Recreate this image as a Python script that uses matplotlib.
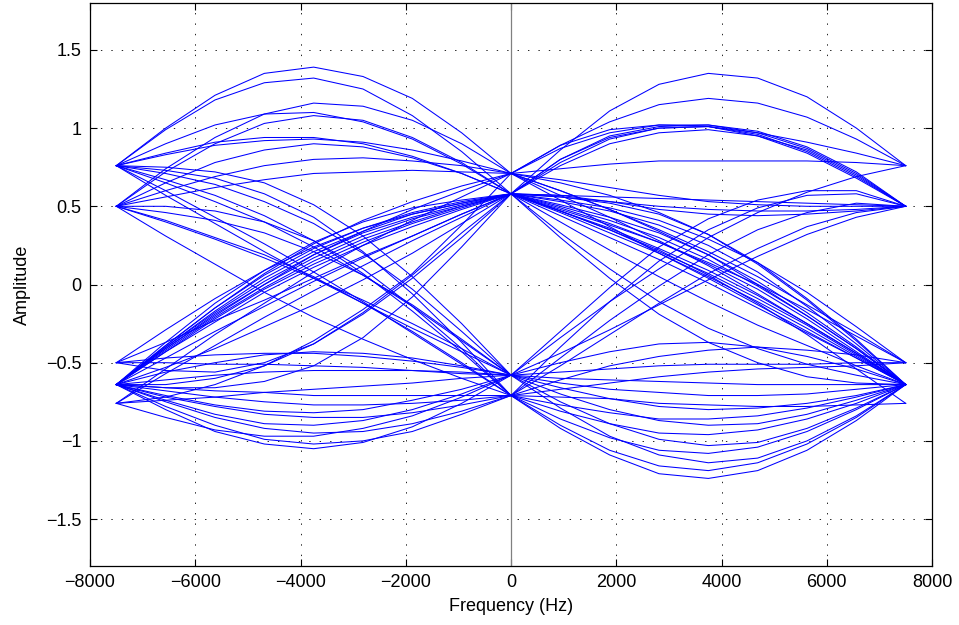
import matplotlib
matplotlib.use("Agg")
import matplotlib.pyplot as plt

plt.rcParams['font.family'] = ['Liberation Sans', 'DejaVu Sans']
plt.rcParams['lines.scale_dashes'] = False

# sample frequencies of each half-trace (Hz)
left_freq = [-7500, -6562.5, -5625, -4687.5, -3750, -2812.5, -1875, -937.5, 0]
right_freq = [0, 937.5, 1875, 2812.5, 3750, 4687.5, 5625, 6562.5, 7500]

# ---------------- left half ----------------
left_upper_arcs = [
    [0.76, 1.00, 1.21, 1.35, 1.39, 1.33, 1.19, 0.97, 0.71],
    [0.76, 0.99, 1.18, 1.29, 1.32, 1.25, 1.08, 0.85, 0.58],
    [0.50, 0.74, 0.94, 1.09, 1.16, 1.14, 1.05, 0.90, 0.71],
    [0.76, 0.90, 1.02, 1.09, 1.10, 1.04, 0.93, 0.77, 0.58],
    [0.50, 0.72, 0.90, 1.03, 1.08, 1.05, 0.94, 0.78, 0.58],
    [0.76, 0.84, 0.91, 0.94, 0.94, 0.90, 0.82, 0.71, 0.58],
    [0.76, 0.83, 0.89, 0.92, 0.93, 0.91, 0.86, 0.79, 0.71],
    [0.50, 0.65, 0.78, 0.86, 0.90, 0.88, 0.81, 0.71, 0.58],
    [0.50, 0.60, 0.69, 0.76, 0.80, 0.81, 0.79, 0.76, 0.71],
    [0.50, 0.56, 0.62, 0.67, 0.71, 0.72, 0.73, 0.72, 0.71],
]
left_descending = [
    [0.76, 0.71, 0.64, 0.53, 0.39, 0.20, -0.03, -0.30, -0.58],
    [0.76, 0.67, 0.57, 0.44, 0.28, 0.07, -0.17, -0.43, -0.71],
    [0.76, 0.65, 0.53, 0.40, 0.24, 0.06, -0.14, -0.36, -0.58],
    [0.76, 0.60, 0.43, 0.26, 0.08, -0.11, -0.31, -0.51, -0.71],
    [0.50, 0.46, 0.41, 0.33, 0.21, 0.06, -0.13, -0.35, -0.58],
    [0.50, 0.50, 0.47, 0.40, 0.28, 0.10, -0.14, -0.41, -0.71],
    [0.50, 0.40, 0.29, 0.17, 0.04, -0.10, -0.25, -0.41, -0.58],
    [0.50, 0.31, 0.13, -0.05, -0.21, -0.35, -0.48, -0.60, -0.71],
    [0.76, 0.57, 0.39, 0.21, 0.04, -0.12, -0.28, -0.43, -0.58],
    [0.76, 0.75, 0.72, 0.65, 0.51, 0.31, 0.05, -0.25, -0.58],
    [0.50, 0.41, 0.30, 0.19, 0.05, -0.12, -0.30, -0.50, -0.71],
    [0.76, 0.73, 0.68, 0.58, 0.43, 0.21, -0.06, -0.37, -0.71],
]
left_ascending = [
    [-0.64, -0.37, -0.12, 0.09, 0.27, 0.40, 0.49, 0.54, 0.58],
    [-0.64, -0.40, -0.18, 0.02, 0.19, 0.33, 0.43, 0.51, 0.58],
    [-0.64, -0.42, -0.21, -0.02, 0.15, 0.29, 0.40, 0.50, 0.58],
    [-0.64, -0.41, -0.20, 0.00, 0.19, 0.34, 0.48, 0.60, 0.71],
    [-0.64, -0.43, -0.24, -0.05, 0.11, 0.25, 0.37, 0.48, 0.58],
    [-0.64, -0.41, -0.19, 0.00, 0.17, 0.31, 0.42, 0.50, 0.58],
    [-0.64, -0.39, -0.15, 0.06, 0.23, 0.36, 0.46, 0.53, 0.58],
    [-0.50, -0.29, -0.09, 0.09, 0.24, 0.36, 0.45, 0.52, 0.58],
    [-0.76, -0.54, -0.32, -0.12, 0.08, 0.25, 0.41, 0.56, 0.71],
    [-0.64, -0.47, -0.30, -0.14, 0.02, 0.17, 0.31, 0.45, 0.58],
    [-0.64, -0.39, -0.15, 0.07, 0.26, 0.41, 0.53, 0.63, 0.71],
    [-0.64, -0.53, -0.41, -0.27, -0.13, 0.03, 0.20, 0.39, 0.58],
    [-0.50, -0.37, -0.23, -0.10, 0.04, 0.18, 0.31, 0.45, 0.58],
    [-0.64, -0.43, -0.22, -0.03, 0.13, 0.27, 0.39, 0.49, 0.58],
    [-0.76, -0.57, -0.39, -0.21, -0.04, 0.12, 0.28, 0.43, 0.58],
    [-0.64, -0.40, -0.17, 0.04, 0.21, 0.34, 0.45, 0.52, 0.58],
    [-0.64, -0.66, -0.66, -0.62, -0.52, -0.34, -0.08, 0.24, 0.58],
    [-0.64, -0.64, -0.60, -0.52, -0.38, -0.18, 0.06, 0.33, 0.58],
    [-0.76, -0.72, -0.64, -0.52, -0.36, -0.16, 0.07, 0.38, 0.71],
    [-0.50, -0.55, -0.56, -0.50, -0.38, -0.19, 0.04, 0.30, 0.58],
]
left_lower_arcs = [
    [-0.64, -0.56, -0.50, -0.45, -0.43, -0.44, -0.47, -0.52, -0.58],
    [-0.50, -0.47, -0.45, -0.44, -0.44, -0.46, -0.49, -0.53, -0.58],
    [-0.50, -0.50, -0.51, -0.51, -0.52, -0.53, -0.55, -0.56, -0.58],
    [-0.64, -0.61, -0.58, -0.56, -0.55, -0.55, -0.55, -0.57, -0.58],
    [-0.76, -0.74, -0.72, -0.69, -0.67, -0.65, -0.63, -0.60, -0.58],
    [-0.64, -0.66, -0.68, -0.69, -0.71, -0.71, -0.71, -0.71, -0.71],
    [-0.64, -0.68, -0.72, -0.75, -0.77, -0.77, -0.76, -0.74, -0.71],
    [-0.64, -0.71, -0.77, -0.81, -0.82, -0.80, -0.74, -0.67, -0.58],
    [-0.64, -0.72, -0.78, -0.83, -0.85, -0.85, -0.82, -0.77, -0.71],
    [-0.64, -0.74, -0.83, -0.89, -0.90, -0.87, -0.80, -0.70, -0.58],
    [-0.64, -0.75, -0.85, -0.92, -0.95, -0.94, -0.89, -0.81, -0.71],
    [-0.76, -0.85, -0.93, -0.97, -0.97, -0.92, -0.84, -0.72, -0.58],
    [-0.64, -0.78, -0.90, -0.99, -1.02, -1.00, -0.94, -0.83, -0.71],
    [-0.64, -0.80, -0.94, -1.02, -1.05, -1.01, -0.91, -0.76, -0.58],
]

# ---------------- right half ----------------
right_upper_arcs = [
    [0.58, 0.86, 1.11, 1.28, 1.35, 1.32, 1.20, 1.00, 0.76],
    [0.71, 0.89, 1.04, 1.15, 1.19, 1.16, 1.07, 0.93, 0.76],
    [0.58, 0.80, 0.95, 1.01, 1.02, 0.97, 0.87, 0.71, 0.50],
    [0.71, 0.87, 0.97, 1.02, 1.02, 0.98, 0.88, 0.72, 0.50],
    [0.58, 0.78, 0.93, 1.00, 1.01, 0.96, 0.85, 0.69, 0.50],
    [0.71, 0.89, 0.99, 1.02, 1.01, 0.95, 0.84, 0.68, 0.50],
    [0.58, 0.76, 0.90, 0.97, 0.99, 0.95, 0.86, 0.70, 0.50],
    [0.58, 0.80, 0.94, 1.00, 1.01, 0.97, 0.91, 0.84, 0.76],
    [0.71, 0.74, 0.77, 0.79, 0.79, 0.79, 0.79, 0.78, 0.76],
    [0.58, 0.57, 0.56, 0.55, 0.54, 0.53, 0.52, 0.51, 0.50],
    [0.58, 0.57, 0.53, 0.48, 0.45, 0.44, 0.45, 0.47, 0.50],
    [0.71, 0.67, 0.62, 0.57, 0.53, 0.51, 0.50, 0.50, 0.50],
    [0.58, 0.56, 0.53, 0.50, 0.48, 0.47, 0.47, 0.48, 0.50],
]
right_ascending = [
    [-0.58, -0.30, -0.02, 0.24, 0.42, 0.54, 0.60, 0.60, 0.50],
    [-0.71, -0.40, -0.11, 0.15, 0.35, 0.49, 0.57, 0.58, 0.50],
    [-0.58, -0.34, -0.11, 0.10, 0.30, 0.46, 0.59, 0.69, 0.76],
    [-0.71, -0.52, -0.32, -0.12, 0.07, 0.23, 0.37, 0.46, 0.50],
    [-0.58, -0.44, -0.29, -0.13, 0.03, 0.18, 0.32, 0.43, 0.50],
    [-0.71, -0.47, -0.23, -0.01, 0.19, 0.35, 0.46, 0.52, 0.50],
]
right_descending = [
    [0.58, 0.51, 0.43, 0.33, 0.19, 0.02, -0.18, -0.40, -0.64],
    [0.58, 0.49, 0.39, 0.27, 0.13, -0.03, -0.22, -0.43, -0.64],
    [0.58, 0.47, 0.36, 0.23, 0.09, -0.07, -0.25, -0.44, -0.64],
    [0.58, 0.53, 0.47, 0.38, 0.25, 0.08, -0.14, -0.38, -0.64],
    [0.58, 0.44, 0.30, 0.16, 0.01, -0.15, -0.31, -0.47, -0.64],
    [0.58, 0.40, 0.22, 0.05, -0.11, -0.26, -0.39, -0.52, -0.64],
    [0.58, 0.33, 0.10, -0.11, -0.28, -0.41, -0.51, -0.58, -0.64],
    [0.58, 0.56, 0.52, 0.45, 0.32, 0.14, -0.09, -0.35, -0.64],
    [0.58, 0.46, 0.33, 0.20, 0.05, -0.11, -0.28, -0.46, -0.64],
    [0.58, 0.30, 0.04, -0.19, -0.37, -0.50, -0.59, -0.63, -0.64],
    [0.71, 0.60, 0.48, 0.34, 0.19, 0.00, -0.20, -0.41, -0.64],
    [0.71, 0.54, 0.37, 0.20, 0.04, -0.13, -0.30, -0.47, -0.64],
    [0.71, 0.57, 0.43, 0.28, 0.12, -0.06, -0.25, -0.44, -0.64],
    [0.71, 0.65, 0.57, 0.46, 0.32, 0.13, -0.10, -0.36, -0.64],
    [0.58, 0.54, 0.49, 0.41, 0.29, 0.14, -0.05, -0.27, -0.50],
    [0.58, 0.48, 0.38, 0.27, 0.14, 0.00, -0.16, -0.33, -0.50],
    [0.58, 0.47, 0.35, 0.22, 0.06, -0.12, -0.32, -0.54, -0.76],
    [0.71, 0.60, 0.48, 0.35, 0.21, 0.05, -0.13, -0.31, -0.50],
    [0.58, 0.50, 0.41, 0.30, 0.16, -0.01, -0.20, -0.41, -0.64],
    [0.58, 0.47, 0.35, 0.21, 0.07, -0.09, -0.26, -0.45, -0.64],
]
right_lower_arcs = [
    [-0.58, -0.50, -0.43, -0.38, -0.37, -0.40, -0.46, -0.54, -0.64],
    [-0.71, -0.61, -0.52, -0.46, -0.42, -0.40, -0.42, -0.45, -0.50],
    [-0.58, -0.56, -0.54, -0.52, -0.51, -0.51, -0.51, -0.50, -0.50],
    [-0.71, -0.67, -0.63, -0.59, -0.56, -0.54, -0.53, -0.52, -0.50],
    [-0.58, -0.60, -0.61, -0.62, -0.63, -0.64, -0.64, -0.64, -0.64],
    [-0.58, -0.63, -0.67, -0.69, -0.71, -0.71, -0.70, -0.67, -0.64],
    [-0.71, -0.72, -0.73, -0.76, -0.77, -0.78, -0.78, -0.77, -0.76],
    [-0.58, -0.66, -0.73, -0.78, -0.80, -0.79, -0.76, -0.71, -0.64],
    [-0.71, -0.77, -0.82, -0.86, -0.86, -0.84, -0.79, -0.72, -0.64],
    [-0.58, -0.70, -0.80, -0.87, -0.90, -0.89, -0.83, -0.74, -0.64],
    [-0.71, -0.81, -0.89, -0.95, -0.96, -0.93, -0.86, -0.76, -0.64],
    [-0.58, -0.75, -0.89, -0.99, -1.03, -1.01, -0.92, -0.79, -0.64],
    [-0.71, -0.86, -0.98, -1.06, -1.08, -1.04, -0.94, -0.80, -0.64],
    [-0.58, -0.79, -0.97, -1.09, -1.14, -1.11, -1.00, -0.84, -0.64],
    [-0.71, -0.90, -1.06, -1.16, -1.19, -1.14, -1.02, -0.85, -0.64],
    [-0.71, -0.92, -1.09, -1.21, -1.24, -1.19, -1.06, -0.87, -0.64],
]

x_ticks = [-8000, -6000, -4000, -2000, 0, 2000, 4000, 6000, 8000]
y_ticks = [-1.5, -1, -0.5, 0, 0.5, 1, 1.5]

fig = plt.figure(figsize=(9.59, 6.25), dpi=100)
ax = fig.add_axes([90 / 959, 1 - 566 / 625, 842 / 959, 563 / 625])

ax.axvline(0, color='#808080', lw=0.9, zorder=1)

line_kw = dict(color='#0000ff', lw=0.75, zorder=2)
for group in (left_upper_arcs, left_descending, left_ascending, left_lower_arcs):
    for tr in group:
        ax.plot(left_freq, tr, **line_kw)
for group in (right_upper_arcs, right_ascending, right_descending, right_lower_arcs):
    for tr in group:
        ax.plot(right_freq, tr, **line_kw)

ax.set_xlim(-8000, 8000)
ax.set_ylim(-1.8, 1.8)
ax.set_xticks(x_ticks)
ax.set_yticks(y_ticks)
ax.set_xticklabels([str(t).replace('-', '\u2212') for t in x_ticks])
ax.set_yticklabels([('%g' % t).replace('-', '\u2212') for t in y_ticks])
ax.grid(True, color='black', linestyle=(0, (1, 6.5)), lw=0.6)
ax.set_axisbelow(True)
ax.tick_params(direction='in', length=5, width=0.8, top=True, right=True,
               labelsize=13, pad=6)
for s in ax.spines.values():
    s.set_linewidth(0.9)
ax.set_xlabel('Frequency (Hz)', fontsize=13, labelpad=5)
ax.set_ylabel('Amplitude', fontsize=13, labelpad=11)

fig.savefig('out.png', dpi=100)
